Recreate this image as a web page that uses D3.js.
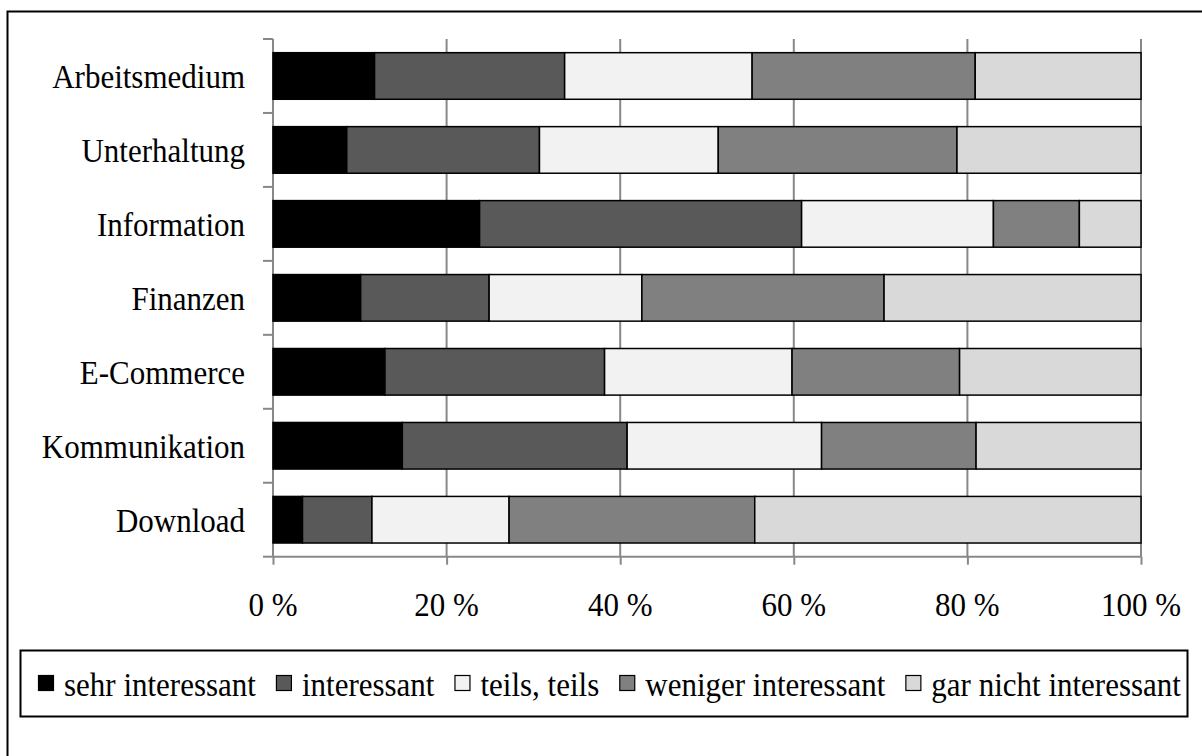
<!DOCTYPE html>
<html><head><meta charset="utf-8">
<script src="https://cdn.jsdelivr.net/npm/d3@7"></script>
<style>html,body{margin:0;padding:0;background:#fff;} svg{display:block;} text{font-family:"Liberation Serif","Times New Roman",serif;fill:#000;}</style>
</head><body><svg id="c" width="1202" height="756"></svg>
<script>
const categories = ["Arbeitsmedium","Unterhaltung","Information","Finanzen","E-Commerce","Kommunikation","Download"];
const seriesNames = ["sehr interessant","interessant","teils, teils","weniger interessant","gar nicht interessant"];
const seriesColors = ["#000000","#595959","#f2f2f2","#808080","#d9d9d9"];
const sehrInteressant   = [11.7, 8.5, 23.8, 10.1, 12.9, 14.9, 3.4];
const interessant       = [21.9, 22.2, 37.1, 14.8, 25.3, 25.9, 8.0];
const teilsTeils        = [21.6, 20.6, 22.1, 17.6, 21.6, 22.4, 15.8];
const wenigerInteressant= [25.7, 27.5, 9.9, 27.9, 19.3, 17.8, 28.3];
const garNicht          = [19.1, 21.2, 7.1, 29.6, 20.9, 19.0, 44.5];
const xTicks = [0,20,40,60,80,100];
const xTickLabels = ["0 %","20 %","40 %","60 %","80 %","100 %"];

const seriesValues = [sehrInteressant, interessant, teilsTeils, wenigerInteressant, garNicht];
const rows = categories.map((c,i)=>{const o={cat:c}; seriesNames.forEach((s,j)=>o[s]=seriesValues[j][i]); return o;});
const stack = d3.stack().keys(seriesNames)(rows);

const svg = d3.select("#c");
const L=273, R=1141, T=39, B=556.7;
const FS = 31, SY = 1.1;
const grid = "#888888";

// outer border
svg.append("rect").attr("x",7.5).attr("y",11.5).attr("width",1210).attr("height",780)
  .attr("fill","none").attr("stroke","#000").attr("stroke-width",2);

const x = d3.scaleLinear().domain([0,100]).range([L,R]);
const y = d3.scaleBand().domain(categories).range([T,B]).paddingInner(0.37).paddingOuter(0.185);

function txt(g, s, tx, ty, anchor){
  return g.append("text").attr("transform",`translate(${tx},${ty}) scale(1,${SY})`)
    .attr("text-anchor",anchor).attr("font-size",FS).text(s);
}

// gridlines
svg.append("g").selectAll("line").data(xTicks.filter(d=>d>0)).join("line")
  .attr("x1",d=>x(d)).attr("x2",d=>x(d)).attr("y1",T).attr("y2",B)
  .attr("stroke",grid).attr("stroke-width",2);

// x axis
const xa = svg.append("g").attr("transform",`translate(0,${B})`)
  .call(d3.axisBottom(x).tickValues(xTicks).tickSize(8).tickFormat((d,i)=>""));
xa.select(".domain").attr("stroke",grid).attr("stroke-width",2).attr("d",`M${L},0H${R}`);
xa.selectAll(".tick line").attr("stroke",grid).attr("stroke-width",2);
xTicks.forEach((d,i)=>txt(svg, xTickLabels[i], x(d), 616, "middle"));

// y axis
svg.append("line").attr("x1",L).attr("x2",L).attr("y1",T).attr("y2",B).attr("stroke",grid).attr("stroke-width",2);
const bounds = d3.range(categories.length+1).map(i=>T + i*y.step()*((B-T)/(y.step()*categories.length)));
svg.append("g").selectAll("line").data(bounds).join("line")
  .attr("x1",L-10).attr("x2",L).attr("y1",d=>d).attr("y2",d=>d)
  .attr("stroke",grid).attr("stroke-width",2);
categories.forEach(c=>txt(svg, c, 245, y(c)+y.bandwidth()/2+12, "end"));

// bars
svg.append("g").selectAll("g").data(stack).join("g")
  .attr("fill",(d,i)=>seriesColors[i])
  .selectAll("rect").data(d=>d).join("rect")
  .attr("x",d=>x(d[0])).attr("width",d=>x(d[1])-x(d[0]))
  .attr("y",d=>y(d.data.cat)).attr("height",y.bandwidth())
  .attr("stroke","#000").attr("stroke-width",1.5);

// legend
svg.append("rect").attr("x",20.5).attr("y",650.5).attr("width",1167).attr("height",66)
  .attr("fill","#fff").attr("stroke","#000").attr("stroke-width",2);
let lx = 38;
seriesNames.forEach((s,i)=>{
  svg.append("rect").attr("x",lx+0.5).attr("y",675.5).attr("width",15).attr("height",15)
    .attr("fill",seriesColors[i]).attr("stroke","#000").attr("stroke-width",1.2);
  const t = txt(svg, s, lx+26, 696, "start");
  const w = t.node().getComputedTextLength();
  lx = lx + 26 + w + 20;
});
</script></body></html>
